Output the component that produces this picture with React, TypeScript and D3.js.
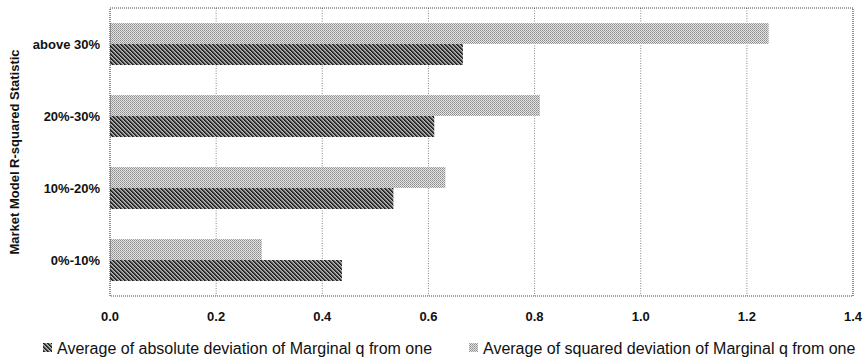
import React from "react";
import * as d3 from "d3";

const categories = ["above 30%", "20%-30%", "10%-20%", "0%-10%"];
const absoluteDev = [0.665, 0.611, 0.534, 0.437];
const squaredDev = [1.241, 0.81, 0.632, 0.286];
const xTicks = [0, 0.2, 0.4, 0.6, 0.8, 1.0, 1.2, 1.4];
const seriesNames = [
  "Average of absolute deviation of Marginal q from one",
  "Average of squared deviation of Marginal q from one",
];
const yTitle = "Market Model R-squared Statistic";

const W = 866;
const H = 361;
const plot = { left: 110, right: 853, top: 8, bottom: 296 };

export default function App() {
  const x = d3.scaleLinear().domain([0, 1.4]).range([plot.left, plot.right]);
  const y = d3.scaleBand<string>().domain(categories).range([plot.top, plot.bottom]).padding(0);
  const sub = d3
    .scaleBand<string>()
    .domain(["squared", "absolute"])
    .range([0, y.bandwidth()])
    .paddingOuter(0.714)
    .paddingInner(0);

  const font = "Arial, 'Liberation Sans', Helvetica, sans-serif";

  return (
    <svg
      width={W}
      height={H}
      style={{ position: "absolute", left: 0, top: 0, background: "#fff" }}
      fontFamily={font}
    >
      <defs>
        <pattern id="lightPat" patternUnits="userSpaceOnUse" width={2} height={2}>
          <rect width={2} height={2} fill="#e4e4e4" />
          <rect x={0} y={0} width={1} height={1} fill="#8c8c8c" />
          <rect x={1} y={1} width={1} height={1} fill="#a4a4a4" />
        </pattern>
        <pattern id="darkPat" patternUnits="userSpaceOnUse" width={4} height={4}>
          <rect width={4} height={4} fill="#8a8a8a" />
          <rect x={0} y={0} width={1} height={1} fill="#1a1a1a" />
          <rect x={1} y={1} width={1} height={1} fill="#1a1a1a" />
          <rect x={2} y={2} width={1} height={1} fill="#1a1a1a" />
          <rect x={3} y={3} width={1} height={1} fill="#1a1a1a" />
          <rect x={1} y={0} width={1} height={1} fill="#444" />
          <rect x={2} y={1} width={1} height={1} fill="#444" />
          <rect x={3} y={2} width={1} height={1} fill="#444" />
          <rect x={0} y={3} width={1} height={1} fill="#444" />
          <rect x={3} y={0} width={1} height={1} fill="#b8b8b8" />
          <rect x={0} y={1} width={1} height={1} fill="#b8b8b8" />
          <rect x={1} y={2} width={1} height={1} fill="#b8b8b8" />
          <rect x={2} y={3} width={1} height={1} fill="#b8b8b8" />
        </pattern>
      </defs>

      {/* gridlines */}
      {xTicks.slice(1, -1).map((t) => (
        <line
          key={"g" + t}
          x1={x(t)}
          x2={x(t)}
          y1={plot.top}
          y2={plot.bottom}
          stroke="#888"
          strokeWidth={1}
          strokeDasharray="1,1.5"
        />
      ))}

      {/* bars */}
      {categories.map((c, i) => (
        <g key={c} transform={`translate(0,${y(c)})`}>
          <rect
            x={x(0)}
            y={sub("squared")}
            width={x(squaredDev[i]) - x(0)}
            height={sub.bandwidth()}
            fill="url(#lightPat)"
          />
          <rect
            x={x(0)}
            y={sub("absolute")}
            width={x(absoluteDev[i]) - x(0)}
            height={sub.bandwidth()}
            fill="url(#darkPat)"
          />
        </g>
      ))}

      {/* border */}
      <rect
        x={plot.left}
        y={plot.top}
        width={plot.right - plot.left}
        height={plot.bottom - plot.top}
        fill="none"
        stroke="#444"
        strokeWidth={1.2}
        strokeDasharray="1,1"
      />

      {/* category labels */}
      {categories.map((c) => (
        <text
          key={"l" + c}
          x={100}
          y={(y(c) as number) + y.bandwidth() / 2}
          textAnchor="end"
          dominantBaseline="central"
          fontSize={13}
          fontWeight="bold"
          fill="#111"
        >
          {c}
        </text>
      ))}

      {/* x tick labels */}
      {xTicks.map((t) => (
        <text
          key={"t" + t}
          x={x(t)}
          y={321}
          textAnchor="middle"
          fontSize={13}
          fontWeight="bold"
          fill="#111"
        >
          {d3.format(".1f")(t)}
        </text>
      ))}

      {/* y title */}
      <text
        transform={`translate(19,${(plot.top + plot.bottom) / 2}) rotate(-90)`}
        textAnchor="middle"
        fontSize={13}
        fontWeight="bold"
        fill="#111"
      >
        {yTitle}
      </text>

      {/* legend */}
      <g>
        <rect x={43} y={343} width={9} height={9} fill="url(#darkPat)" />
        <text x={57} y={354} fontSize={16} fill="#111">
          {seriesNames[0]}
        </text>
        <rect x={469} y={343} width={9} height={9} fill="url(#lightPat)" />
        <text x={483} y={354} fontSize={16} fill="#111">
          {seriesNames[1]}
        </text>
      </g>
    </svg>
  );
}
